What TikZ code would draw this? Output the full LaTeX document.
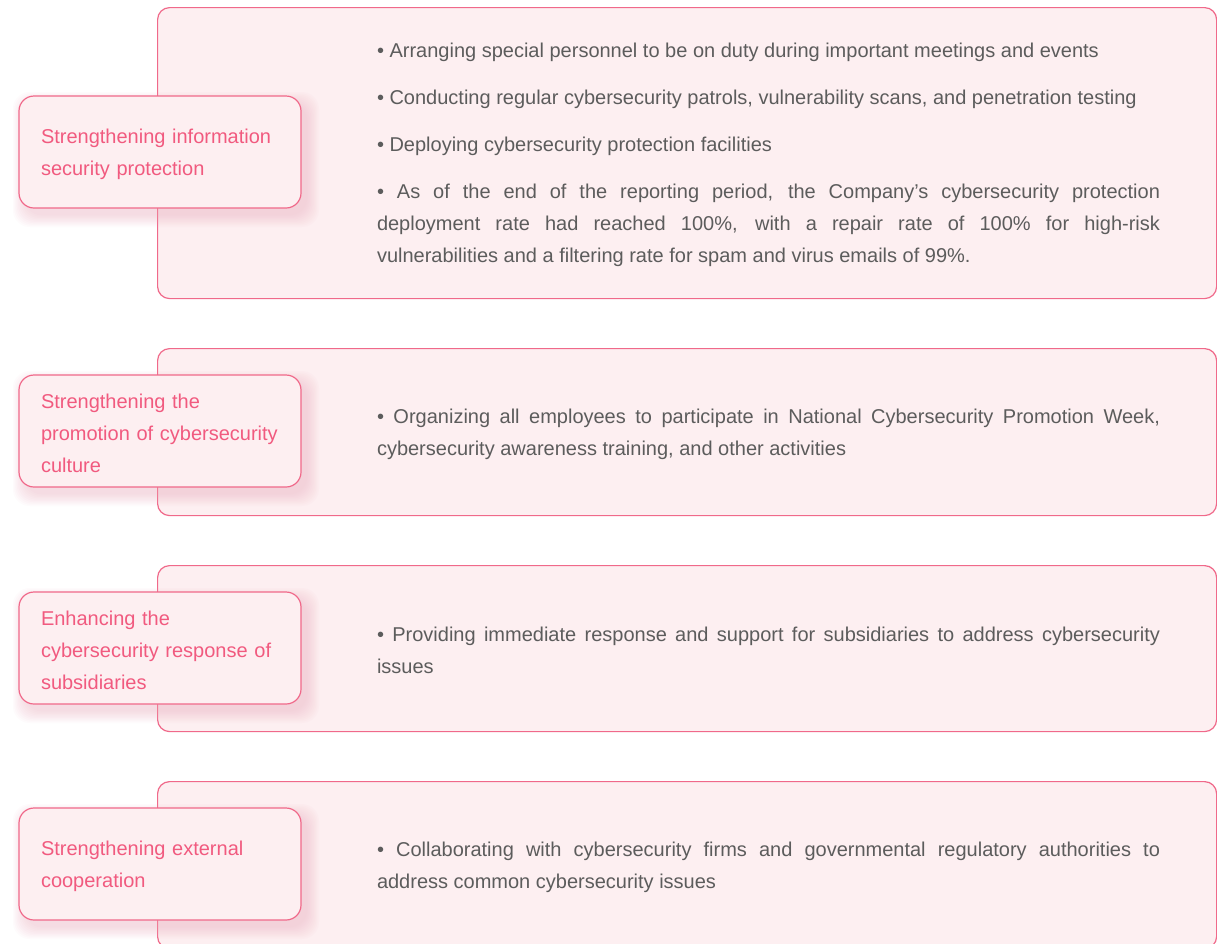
\documentclass[tikz,border=0pt]{standalone}
\usepackage{fontspec}
\setmainfont{Liberation Sans}
\definecolor{bd}{HTML}{F0698A}
\definecolor{bg}{HTML}{FDEFF1}
\definecolor{pk}{HTML}{F15A7F}
\definecolor{tx}{HTML}{5C5C5C}
\definecolor{sh}{HTML}{F2A9BB}
\newcommand\myfont{\fontsize{20}{32}\selectfont\parindent=0pt\relax\hyphenpenalty=10000\relax\exhyphenpenalty=10000\relax}
\tikzset{
  bigbox/.style={draw=bd, fill=bg, line width=1.2pt, rounded corners=12pt, anchor=north west, minimum width=1059pt, inner sep=0pt},
  tagbox/.style={draw=bd, fill=bg, line width=1.2pt, rounded corners=15pt, minimum width=282pt, minimum height=112pt, inner sep=0pt},
  taglabel/.style={text width=240pt, inner sep=0pt, align=left, text=pk, font=\myfont},
  body/.style={text width=783pt, inner sep=0pt, align=justify, text=tx, font=\myfont},
}
\newcommand\tagshadow[1]{\foreach \k in {1,...,10}{\fill[sh, opacity=0.045, rounded corners=17pt] (26-\k*1.3, #1+9-\k*1.3) rectangle (306+\k*1.3, #1+118+\k*1.3);}}
\begin{document}
\begin{tikzpicture}[x=1pt,y=-1pt]
\useasboundingbox (0,0) rectangle (1217,943);
\fill[white] (0,0) rectangle (1217,943);
% row 1
\node[bigbox, minimum height=291pt] (b1) at (157,7) {};
\tagshadow{96}
\node[tagbox] (t1) at (160,152) {};
\node[taglabel] (l1) at (161,154) {Strengthening information\\security protection};
\node[body] (d1) at (768.5,154.5) {%
• Arranging special personnel to be on duty during important meetings and events\par\vspace{15pt}
• Conducting regular cybersecurity patrols, vulnerability scans, and penetration testing\par\vspace{15pt}
• Deploying cybersecurity protection facilities\par\vspace{15pt}
• As of the end of the reporting period, the Company’s cybersecurity protection\linebreak deployment rate had reached 100\%, with a repair rate of 100\% for high-risk\linebreak vulnerabilities and a filtering rate for spam and virus emails of 99\%.};
% row 2
\node[bigbox, minimum height=167pt] (b2) at (157,348) {};
\tagshadow{375}
\node[tagbox] (t2) at (160,431) {};
\node[taglabel] (l2) at (161,433) {Strengthening the\\promotion of cybersecurity\\culture};
\node[body] (d2) at (768.5,434) {• Organizing all employees to participate in National Cybersecurity Promotion Week,\linebreak cybersecurity awareness training, and other activities};
% row 3
\node[bigbox, minimum height=166pt] (b3) at (157,565) {};
\tagshadow{592}
\node[tagbox] (t3) at (160,648) {};
\node[taglabel] (l3) at (161,650) {Enhancing the\\cybersecurity response of\\subsidiaries};
\node[body] (d3) at (768.5,650) {• Providing immediate response and support for subsidiaries to address cybersecurity\linebreak issues};
% row 4
\node[bigbox, minimum height=167pt] (b4) at (157,781) {};
\tagshadow{808}
\node[tagbox] (t4) at (160,864) {};
\node[taglabel] (l4) at (161,866) {Strengthening external\\cooperation};
\node[body] (d4) at (768.5,867) {• Collaborating with cybersecurity firms and governmental regulatory authorities to\linebreak address common cybersecurity issues};
\end{tikzpicture}
\end{document}
